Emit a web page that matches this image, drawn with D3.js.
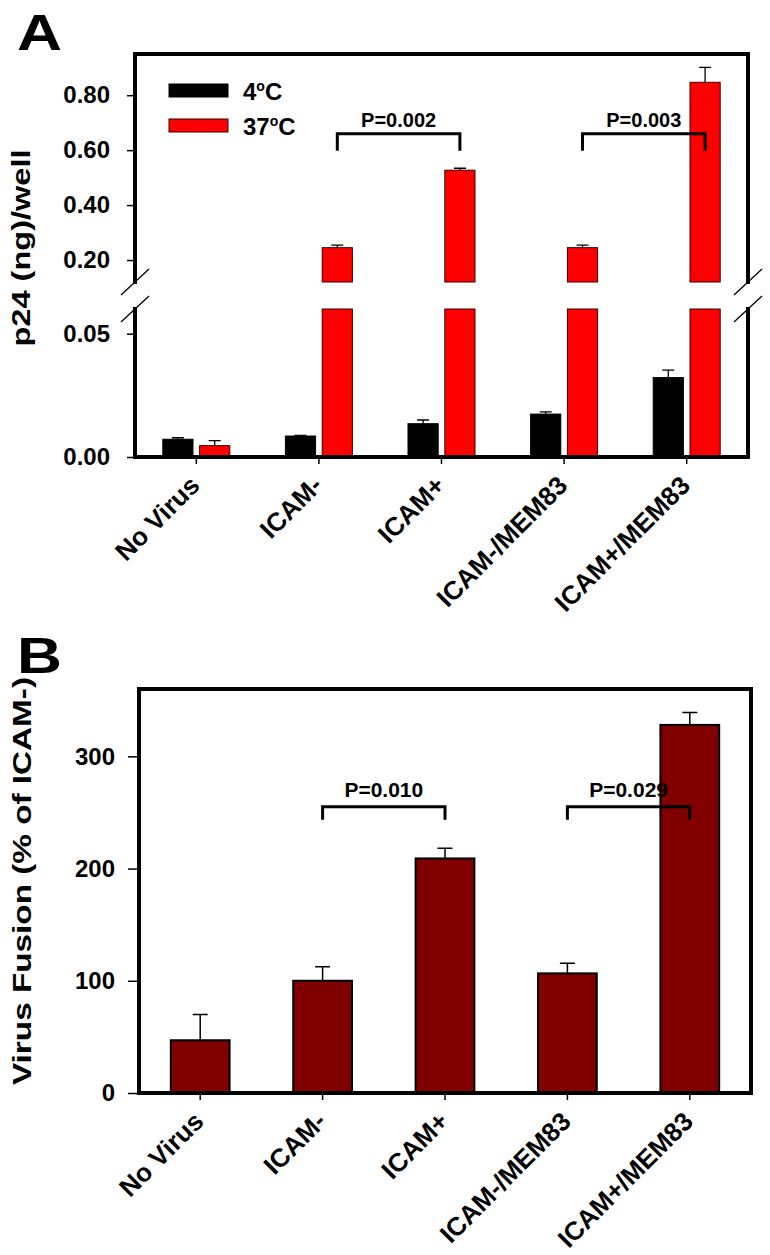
<!DOCTYPE html>
<html>
<head>
<meta charset="utf-8">
<script src="https://cdn.jsdelivr.net/npm/d3@7"></script>
<style>
  body { margin: 0; background: #fff; }
  text { font-family: "Liberation Sans", Arial, sans-serif; font-weight: bold; fill: #000; }
</style>
</head>
<body>
<div class="graphic"></div>
<script>
// data
let categories = ["No Virus", "ICAM-", "ICAM+", "ICAM-/MEM83", "ICAM+/MEM83"];
let seriesA = ["4oC", "37oC"];
let p24Cold = [0.0072, 0.0085, 0.0135, 0.0174, 0.0322];
let p24ColdErr = [0.0006, 0.0003, 0.0015, 0.0009, 0.0030];
let p24Warm = [0.0046, 0.245, 0.527, 0.245, 0.847];
let p24WarmErr = [0.0020, 0.009, 0.007, 0.009, 0.054];
let lowerTicks = [0, 0.05];
let upperTicks = [0.2, 0.4, 0.6, 0.8];
let fusion = [47, 100, 209, 106.6, 328];
let fusionErr = [23, 12.5, 9, 9, 11];
let fusionTicks = [0, 100, 200, 300];
let bracketsA = [
    {from: "ICAM-", to: "ICAM+", label: "P=0.002", value: 0.66},
    {from: "ICAM-/MEM83", to: "ICAM+/MEM83", label: "P=0.003", value: 0.66}
];
let bracketsB = [
    {from: "ICAM-", to: "ICAM+", label: "P=0.010", value: 255},
    {from: "ICAM-/MEM83", to: "ICAM+/MEM83", label: "P=0.029", value: 255}
];

let RED = "#ff0000";
let DARKRED = "#800000";

let svg = d3.select(".graphic")
            .append("svg")
            .attr("width", 770)
            .attr("height", 1255);

function frameLine(x1, y1, x2, y2, w) {
    svg.append("line")
        .attr("x1", x1).attr("y1", y1)
        .attr("x2", x2).attr("y2", y2)
        .attr("stroke", "#000")
        .attr("stroke-width", w)
        .attr("stroke-linecap", "square");
}

function styleAxis(g) {
    g.select(".domain").remove();
    g.selectAll(".tick line").attr("stroke", "#000").attr("stroke-width", 1.5);
}

function xLabels(g) {
    g.selectAll(".tick text")
        .attr("x", 0).attr("y", 0).attr("dy", 0)
        .attr("text-anchor", "end")
        .attr("font-size", 26)
        .attr("font-family", "Liberation Sans, Arial, sans-serif")
        .attr("transform", "translate(5,30) rotate(-45)");
}

function bracket(x1, x2, y, leg, label, size, gap) {
    svg.append("path")
        .attr("d", `M${x1},${y + leg}V${y}H${x2}V${y + leg}`)
        .attr("fill", "none")
        .attr("stroke", "#000")
        .attr("stroke-width", 3);
    svg.append("text")
        .attr("x", (x1 + x2) / 2)
        .attr("y", y - gap)
        .attr("text-anchor", "middle")
        .attr("font-size", size)
        .text(label);
}

// ---------- panel A ----------
let left = 135, right = 748, bottomA = 457;
let x = d3.scaleBand().domain(categories).range([left, right]);
let xs = d3.scaleBand().domain(seriesA).range([0, 67]).paddingInner(0.18);
let yLow = d3.scaleLinear().domain([0, 0.06]).range([bottomA, 309]);
let yUp = d3.scaleLinear().domain([0.12, 0.95]).range([282, 54]);

function barX(cat, s) {
    return x(cat) + x.bandwidth() / 2 - 33.5 + xs(s);
}

function drawBarA(cat, s, v, err, fill) {
    let bx = barX(cat, s);
    let bw = xs.bandwidth();
    let stroke = fill === RED ? "#3a0000" : "#000";
    if (v <= yLow.domain()[1]) {
        svg.append("rect")
            .attr("x", bx).attr("y", yLow(v))
            .attr("width", bw).attr("height", yLow(0) - yLow(v))
            .attr("fill", fill).attr("stroke", stroke).attr("stroke-width", 1);
    } else {
        svg.append("rect")
            .attr("x", bx).attr("y", yLow.range()[1])
            .attr("width", bw).attr("height", yLow(0) - yLow.range()[1])
            .attr("fill", fill).attr("stroke", stroke).attr("stroke-width", 1);
        svg.append("rect")
            .attr("x", bx).attr("y", yUp(v))
            .attr("width", bw).attr("height", yUp.range()[0] - yUp(v))
            .attr("fill", fill).attr("stroke", stroke).attr("stroke-width", 1);
    }
    let sc = v <= yLow.domain()[1] ? yLow : yUp;
    let cx = bx + bw / 2;
    svg.append("path")
        .attr("d", `M${cx},${sc(v)}V${sc(v + err)}M${cx - 6},${sc(v + err)}H${cx + 6}`)
        .attr("stroke", "#000").attr("stroke-width", 1.3).attr("fill", "none");
}

categories.forEach((c, i) => {
    drawBarA(c, seriesA[0], p24Cold[i], p24ColdErr[i], "#000");
    drawBarA(c, seriesA[1], p24Warm[i], p24WarmErr[i], RED);
});

// axes A
svg.append("g").attr("transform", `translate(${left},0)`)
    .call(d3.axisLeft(yUp).tickValues(upperTicks).tickFormat(d3.format(".2f")).tickSize(8).tickPadding(17).tickSizeOuter(0))
    .call(styleAxis)
    .selectAll("text").attr("font-size", 24).attr("font-family", "Liberation Sans, Arial, sans-serif");
svg.append("g").attr("transform", `translate(${left},0)`)
    .call(d3.axisLeft(yLow).tickValues(lowerTicks).tickFormat(d3.format(".2f")).tickSize(8).tickPadding(17).tickSizeOuter(0))
    .call(styleAxis)
    .selectAll("text").attr("font-size", 24).attr("font-family", "Liberation Sans, Arial, sans-serif");
svg.append("g").attr("transform", `translate(0,${bottomA})`)
    .call(d3.axisBottom(x).tickSize(7).tickSizeOuter(0))
    .call(styleAxis)
    .call(xLabels);

// frame A with axis break
let topA = yUp.range()[1];
frameLine(left, topA, right, topA, 4);
frameLine(left, topA, left, yUp.range()[0], 4);
frameLine(right, topA, right, yUp.range()[0], 4);
frameLine(left, yLow.range()[1], left, bottomA, 4);
frameLine(right, yLow.range()[1], right, bottomA, 4);
frameLine(left, bottomA, right, bottomA, 4);
[left, right].forEach(ax => {
    [yUp.range()[0], yLow.range()[1]].forEach(by => {
        svg.append("line")
            .attr("x1", ax - 14).attr("y1", by + 13)
            .attr("x2", ax + 14).attr("y2", by - 13)
            .attr("stroke", "#000").attr("stroke-width", 1.3);
    });
});

// legend A
[["#000", "#000"], [RED, "#3a0000"]].forEach((c, i) => {
    let ly = 84 + i * 35;
    svg.append("rect").attr("x", 169).attr("y", ly).attr("width", 59).attr("height", 13)
        .attr("fill", c[0]).attr("stroke", c[1]).attr("stroke-width", 1);
    let t = svg.append("text").attr("x", 243).attr("y", ly + 16).attr("font-size", 24);
    let s = seriesA[i];
    t.append("tspan").text(s.slice(0, s.indexOf("o")));
    t.append("tspan").attr("font-size", 14).attr("dy", -9).text("o");
    t.append("tspan").attr("dy", 9).text("C");
});

bracketsA.forEach(b => {
    let x1 = barX(b.from, seriesA[1]) + xs.bandwidth() / 2;
    let x2 = barX(b.to, seriesA[1]) + xs.bandwidth() / 2;
    bracket(x1, x2, yUp(b.value), 17, b.label, 20, 7);
});

svg.append("text").attr("x", 17).attr("y", 50).attr("font-size", 50)
    .attr("textLength", 45).attr("lengthAdjust", "spacingAndGlyphs").text("A");
svg.append("text")
    .attr("transform", "translate(30,248) rotate(-90)")
    .attr("text-anchor", "middle")
    .attr("font-size", 26)
    .attr("textLength", 197).attr("lengthAdjust", "spacingAndGlyphs")
    .text("p24 (ng)/well");

// ---------- panel B ----------
let leftB = 139, rightB = 751, topB = 689, bottomB = 1093;
let xb = d3.scaleBand().domain(categories).range([leftB, rightB]).paddingInner(0.52).paddingOuter(0.26);
let yb = d3.scaleLinear().domain([0, 360]).range([bottomB, topB]);
let xbCenter = d3.scaleBand().domain(categories).range([leftB, rightB]);

categories.forEach((c, i) => {
    svg.append("rect")
        .attr("x", xb(c)).attr("y", yb(fusion[i]))
        .attr("width", xb.bandwidth()).attr("height", yb(0) - yb(fusion[i]))
        .attr("fill", DARKRED).attr("stroke", "#000").attr("stroke-width", 2);
    let cx = xb(c) + xb.bandwidth() / 2;
    svg.append("path")
        .attr("d", `M${cx},${yb(fusion[i])}V${yb(fusion[i] + fusionErr[i])}M${cx - 7.5},${yb(fusion[i] + fusionErr[i])}H${cx + 7.5}`)
        .attr("stroke", "#000").attr("stroke-width", 1.5).attr("fill", "none");
});

svg.append("g").attr("transform", `translate(${leftB},0)`)
    .call(d3.axisLeft(yb).tickValues(fusionTicks).tickSize(11).tickPadding(13).tickSizeOuter(0))
    .call(styleAxis)
    .selectAll("text").attr("font-size", 24).attr("font-family", "Liberation Sans, Arial, sans-serif");
svg.append("g").attr("transform", `translate(0,${bottomB})`)
    .call(d3.axisBottom(xbCenter).tickSize(7).tickSizeOuter(0))
    .call(styleAxis)
    .call(xLabels);

frameLine(leftB, topB, rightB, topB, 4);
frameLine(leftB, topB, leftB, bottomB, 4);
frameLine(rightB, topB, rightB, bottomB, 4);
frameLine(leftB, bottomB, rightB, bottomB, 4);

bracketsB.forEach(b => {
    let x1 = xb(b.from) + xb.bandwidth() / 2;
    let x2 = xb(b.to) + xb.bandwidth() / 2;
    bracket(x1, x2, yb(b.value), 13, b.label, 21, 10);
});

svg.append("text").attr("x", 17).attr("y", 673).attr("font-size", 50)
    .attr("textLength", 45).attr("lengthAdjust", "spacingAndGlyphs").text("B");
svg.append("text")
    .attr("transform", "translate(31,881) rotate(-90)")
    .attr("text-anchor", "middle")
    .attr("font-size", 26)
    .attr("textLength", 408).attr("lengthAdjust", "spacingAndGlyphs")
    .text("Virus Fusion (% of ICAM-)");
</script>
</body>
</html>
